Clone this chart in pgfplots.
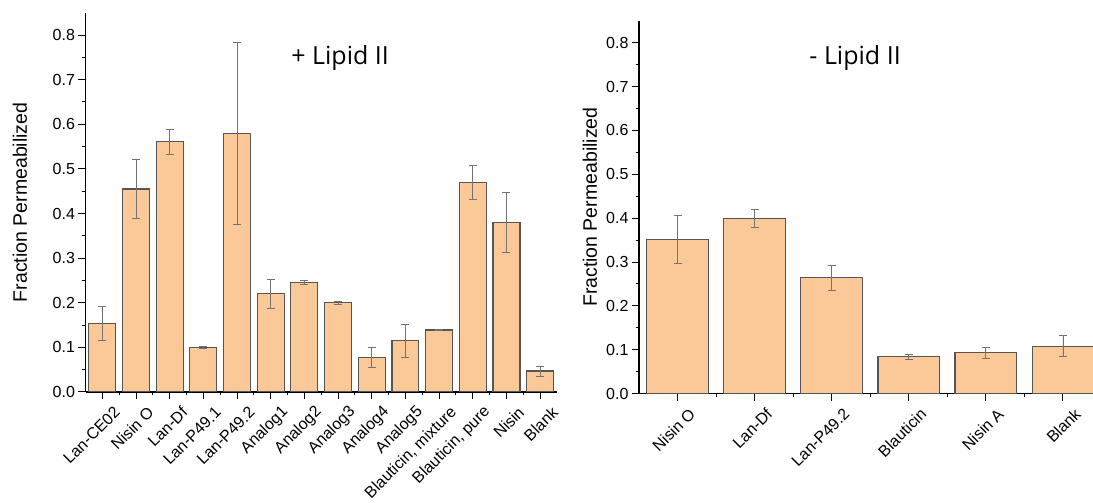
\documentclass[border=0pt]{standalone}
\usepackage{pgfplots}
\pgfplotsset{compat=1.18}
\usepackage{fontspec}
\setmainfont{Liberation Sans}
\newfontfamily\titlefont{Open Sans}
\definecolor{barfill}{RGB}{251,200,152}
\definecolor{baredge}{RGB}{85,85,85}
\definecolor{errc}{RGB}{115,115,115}
\pgfplotsset{
  mystyle/.style={
    scale only axis,
    ymin=0, ymax=0.85,
    ytick={0,0.1,0.2,0.3,0.4,0.5,0.6,0.7,0.8},
    minor y tick num=1,
    minor x tick num=1,
    axis x line*=bottom, axis y line*=left,
    axis line style={line width=1.3pt},
    tick align=outside,
    major tick length=7pt, minor tick length=3.5pt,
    tick style={black, line width=1pt},
    every tick label/.append style={font=\fontsize{16}{18}\selectfont},
    yticklabel style={/pgf/number format/.cd, fixed, fixed zerofill, precision=1, assume math mode=true},
    xticklabel style={rotate=45, anchor=east, inner sep=1pt, xshift=4pt, yshift=-18pt},
    ylabel={Fraction Permeabilized},
    ylabel style={font=\fontsize{19.5}{22}\selectfont, anchor=center},
    ybar, bar width=0.8,
  },
  barstyle/.style={fill=barfill, draw=baredge, line width=1.1pt,
    error bars/.cd, y dir=both, y explicit,
    error bar style={errc, line width=0.8pt},
    error mark options={rotate=90, mark size=4pt, errc, line width=0.8pt}},
}
\begin{document}
\begin{tikzpicture}
\begin{axis}[mystyle,
  at={(85.5pt,111pt)}, anchor=south west,
  width=471.5pt, height=379.3pt,
  xmin=-0.5, xmax=13.5,
  xtick={0,1,2,3,4,5,6,7,8,9,10,11,12,13},
  xticklabels={Lan-CE02, Nisin O, Lan-Df, Lan-P49.1, Lan-P49.2, Analog1, Analog2, Analog3, Analog4, Analog5, {Blauticin, mixture}, {Blauticin, pure}, Nisin, Blank},
  ylabel style={at={(axis description cs:-0.139,0.5)}},
]
\addplot[barstyle] coordinates {
  (0,0.154) +- (0,0.038)
  (1,0.455) +- (0,0.066)
  (2,0.561) +- (0,0.028)
  (3,0.100) +- (0,0.002)
  (4,0.580) +- (0,0.204)
  (5,0.220) +- (0,0.032)
  (6,0.245) +- (0,0.004)
  (7,0.200) +- (0,0.004)
  (8,0.077) +- (0,0.022)
  (9,0.115) +- (0,0.037)
  (10,0.139) +- (0,0.002)
  (11,0.469) +- (0,0.038)
  (12,0.380) +- (0,0.067)
  (13,0.047) +- (0,0.011)
};
\node[font=\titlefont\fontsize{25}{28}\selectfont] at (rel axis cs:0.54,0.88) {+ Lipid II};
\end{axis}
\begin{axis}[mystyle,
  at={(639pt,109.3pt)}, anchor=south west,
  width=454pt, height=373pt,
  xmin=-0.5, xmax=5.39,
  xtick={0,1,2,3,4,5},
  xticklabels={Nisin O, Lan-Df, Lan-P49.2, Blauticin, Nisin A, Blank},
  ylabel style={at={(axis description cs:-0.108,0.5)}},
]
\addplot[barstyle] coordinates {
  (0,0.351) +- (0,0.055)
  (1,0.399) +- (0,0.021)
  (2,0.264) +- (0,0.029)
  (3,0.084) +- (0,0.005)
  (4,0.093) +- (0,0.013)
  (5,0.108) +- (0,0.024)
};
\node[font=\titlefont\fontsize{25}{28}\selectfont] at (rel axis cs:0.476,0.90) {- Lipid II};
\end{axis}
\pgfresetboundingbox
\useasboundingbox (0,0) rectangle (1093pt,503pt);
\end{tikzpicture}
\end{document}
